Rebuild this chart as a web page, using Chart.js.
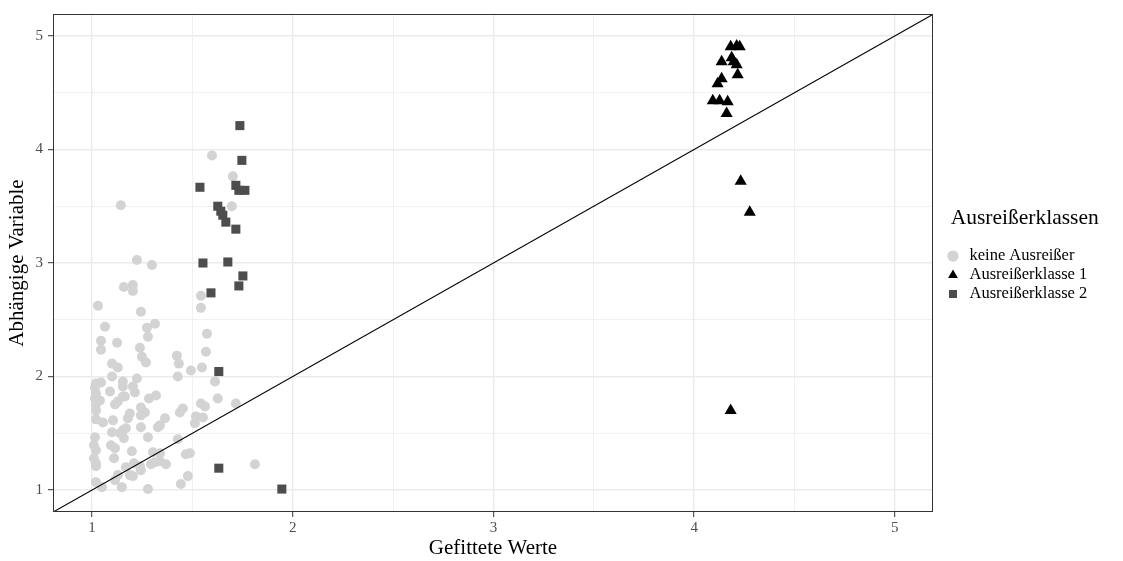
<!DOCTYPE html>
<html lang="de">
<head>
<meta charset="utf-8">
<title>Ausreißerklassen</title>
<script src="https://cdn.jsdelivr.net/npm/chart.js@4"></script>
<style>
  html, body { margin: 0; padding: 0; background: #fff; }
  #wrap { width: 1123px; height: 561px; }
</style>
</head>
<body>
<div id="wrap"><canvas id="plot" width="1123" height="561"></canvas></div>
<script>
// Panelgrenzen (ggplot: 5 % Rand um die Daten)
const xLimits = [0.806, 5.19];
const yLimits = [0.807, 5.193];

const klassen = ['keine Ausreißer', 'Ausreißerklasse 1', 'Ausreißerklasse 2'];

// keine Ausreißer
const keineX = [1.144, 1.598, 1.702, 1.697, 1.224, 1.299, 1.159, 1.204, 1.204, 1.543,
  1.030, 1.543, 1.244, 1.065, 1.314, 1.274, 1.279, 1.573, 1.045, 1.045,
  1.125, 1.239, 1.249, 1.269, 1.423, 1.433, 1.568, 1.100, 1.129, 1.493,
  1.548, 1.100, 1.428, 1.224, 1.154, 1.020, 1.045, 1.015, 1.613, 1.204,
  1.154, 1.090, 1.214, 1.020, 1.040, 1.020, 1.154, 1.115, 1.129, 1.164,
  1.284, 1.319, 1.627, 1.717, 1.244, 1.264, 1.244, 1.020, 1.189, 1.179,
  1.438, 1.453, 1.543, 1.563, 1.518, 1.553, 1.513, 1.364, 1.339, 1.329,
  1.020, 1.055, 1.105, 1.244, 1.154, 1.169, 1.139, 1.100, 1.015, 1.159,
  1.279, 1.428, 1.010, 1.020, 1.095, 1.115, 1.110, 1.199, 1.304, 1.339,
  1.010, 1.020, 1.020, 1.468, 1.209, 1.294, 1.314, 1.339, 1.369, 1.169,
  1.244, 1.239, 1.812, 1.129, 1.115, 1.189, 1.204, 1.020, 1.050, 1.478,
  1.443, 1.149, 1.279, 1.488, 1.015];
const keineY = [3.509, 3.947, 3.763, 3.500, 3.026, 2.982, 2.789, 2.807, 2.754, 2.711,
  2.623, 2.605, 2.570, 2.439, 2.465, 2.430, 2.351, 2.377, 2.316, 2.237,
  2.298, 2.254, 2.175, 2.123, 2.184, 2.114, 2.219, 2.114, 2.079, 2.053,
  2.079, 2.000, 2.000, 1.982, 1.956, 1.939, 1.947, 1.904, 1.956, 1.912,
  1.912, 1.868, 1.860, 1.851, 1.789, 1.754, 1.825, 1.754, 1.781, 1.825,
  1.807, 1.833, 1.807, 1.763, 1.728, 1.684, 1.658, 1.702, 1.675, 1.632,
  1.684, 1.719, 1.763, 1.737, 1.649, 1.640, 1.588, 1.632, 1.570, 1.553,
  1.623, 1.596, 1.614, 1.553, 1.526, 1.544, 1.500, 1.509, 1.465, 1.456,
  1.465, 1.447, 1.395, 1.351, 1.395, 1.368, 1.281, 1.342, 1.333, 1.325,
  1.281, 1.211, 1.237, 1.316, 1.237, 1.228, 1.246, 1.254, 1.228, 1.202,
  1.175, 1.211, 1.228, 1.132, 1.088, 1.132, 1.123, 1.070, 1.026, 1.123,
  1.053, 1.026, 1.009, 1.325, 1.807];

// Ausreißerklasse 1
const klasse1X = [4.182, 4.212, 4.227, 4.137, 4.187, 4.197, 4.212, 4.217, 4.137, 4.117,
  4.093, 4.127, 4.167, 4.162, 4.232, 4.277, 4.182];
const klasse1Y = [4.904, 4.912, 4.904, 4.772, 4.807, 4.772, 4.746, 4.658, 4.623, 4.579,
  4.430, 4.430, 4.421, 4.316, 3.720, 3.447, 1.700];

// Ausreißerklasse 2
const klasse2X = [1.737, 1.747, 1.538, 1.717, 1.732, 1.762, 1.627, 1.642, 1.652, 1.667,
  1.717, 1.553, 1.677, 1.752, 1.732, 1.593, 1.632, 1.632, 1.946];
const klasse2Y = [4.210, 3.904, 3.667, 3.684, 3.640, 3.640, 3.500, 3.456, 3.421, 3.360,
  3.298, 3.000, 3.009, 2.886, 2.798, 2.737, 2.044, 1.193, 1.009];

// Winkelhalbierende y = x
const linieX = [0.8, 5.2];

const punkte = (xs, ys) => xs.map((x, i) => ({ x, y: ys[i] }));

const FONT = 'Liberation Serif';
Chart.defaults.font.family = FONT;
Chart.defaults.color = '#000';

// Rahmen um das Panel (theme_bw)
const panelRahmen = {
  id: 'panelRahmen',
  afterDatasetsDraw(chart) {
    const { ctx, chartArea: a } = chart;
    ctx.save();
    ctx.strokeStyle = '#333333';
    ctx.lineWidth = 1;
    ctx.strokeRect(Math.round(a.left) + 0.5, Math.round(a.top) + 0.5,
      Math.round(a.right - a.left) - 1, Math.round(a.bottom - a.top) - 1);
    ctx.restore();
  }
};

// Legende: feste Breite rechts, dann etwas eingerückt
const legendeBox = {
  id: 'legendeBox',
  beforeInit(chart) {
    const fit = chart.legend.fit;
    chart.legend.fit = function () {
      fit.call(this);
      this.width = 190;
    };
  },
  afterLayout(chart) {
    const lg = chart.legend;
    lg.left = 942.25;
    lg.width = 165;
    lg.right = lg.left + lg.width;
    lg.top = 208;
    lg.bottom = 330;
  }
};

const gitter = (ctx) => Number.isInteger(ctx.tick.value) ? 1.4 : 0.7;
const tickFarbe = (ctx) => Number.isInteger(ctx.tick.value) ? '#333333' : 'rgba(0,0,0,0)';
const nurGanze = (v) => Number.isInteger(v) ? String(v) : '';

new Chart(document.getElementById('plot'), {
  type: 'scatter',
  data: {
    datasets: [
      {
        label: klassen[0],
        data: punkte(keineX, keineY),
        pointStyle: 'circle',
        pointRadius: 5,
        backgroundColor: '#d3d3d3',
        borderColor: '#d3d3d3',
        borderWidth: 0,
        order: 3
      },
      {
        label: klassen[1],
        data: punkte(klasse1X, klasse1Y),
        pointStyle: 'triangle',
        pointRadius: 7,
        backgroundColor: '#000000',
        borderColor: '#000000',
        borderWidth: 0,
        order: 2
      },
      {
        label: klassen[2],
        data: punkte(klasse2X, klasse2Y),
        pointStyle: 'rect',
        pointRadius: 6.4,
        backgroundColor: '#4d4d4d',
        borderColor: '#4d4d4d',
        borderWidth: 0,
        order: 1
      },
      {
        type: 'line',
        label: 'y = x',
        data: punkte(linieX, linieX),
        borderColor: '#000000',
        borderWidth: 1.1,
        pointRadius: 0,
        fill: false,
        order: 0
      }
    ]
  },
  options: {
    responsive: false,
    animation: false,
    events: [],
    layout: { padding: { top: 12, left: 0, right: 0, bottom: 0 } },
    scales: {
      x: {
        type: 'linear',
        min: xLimits[0],
        max: xLimits[1],
        afterFit(scale) { scale.height = 49; },
        border: { display: false },
        grid: {
          color: '#ebebeb',
          lineWidth: gitter,
          tickColor: tickFarbe,
          tickWidth: 1,
          tickLength: 5
        },
        ticks: {
          stepSize: 0.5,
          includeBounds: false,
          autoSkip: false,
          maxRotation: 0,
          padding: 2,
          color: '#4d4d4d',
          font: { family: FONT, size: 15 },
          callback: nurGanze
        },
        title: {
          display: true,
          text: 'Gefittete Werte',
          color: '#000',
          font: { family: FONT, size: 21 },
          padding: { top: 0, bottom: 0 }
        }
      },
      y: {
        type: 'linear',
        min: yLimits[0],
        max: yLimits[1],
        afterFit(scale) { scale.width = 53; },
        border: { display: false },
        grid: {
          color: '#ebebeb',
          lineWidth: gitter,
          tickColor: tickFarbe,
          tickWidth: 1,
          tickLength: 5
        },
        ticks: {
          stepSize: 0.5,
          includeBounds: false,
          autoSkip: false,
          padding: 5,
          color: '#4d4d4d',
          font: { family: FONT, size: 15 },
          callback: nurGanze
        },
        title: {
          display: true,
          text: 'Abhängige Variable',
          color: '#000',
          font: { family: FONT, size: 21 },
          padding: { top: 5, bottom: 0 }
        }
      }
    },
    plugins: {
      tooltip: { enabled: false },
      legend: {
        position: 'right',
        align: 'start',
        labels: {
          usePointStyle: true,
          boxWidth: 16.5,
          boxHeight: 8,
          padding: 2.5,
          color: '#000',
          font: { family: FONT, size: 16.5 },
          filter: (item) => item.datasetIndex < 3,
          sort: (a, b) => a.datasetIndex - b.datasetIndex
        },
        title: {
          display: true,
          text: 'Ausreißerklassen',
          position: 'center',
          color: '#000',
          font: { family: FONT, size: 21.5 },
          padding: { top: 0, bottom: 11.5 }
        }
      }
    }
  },
  plugins: [panelRahmen, legendeBox]
});
</script>
</body>
</html>
